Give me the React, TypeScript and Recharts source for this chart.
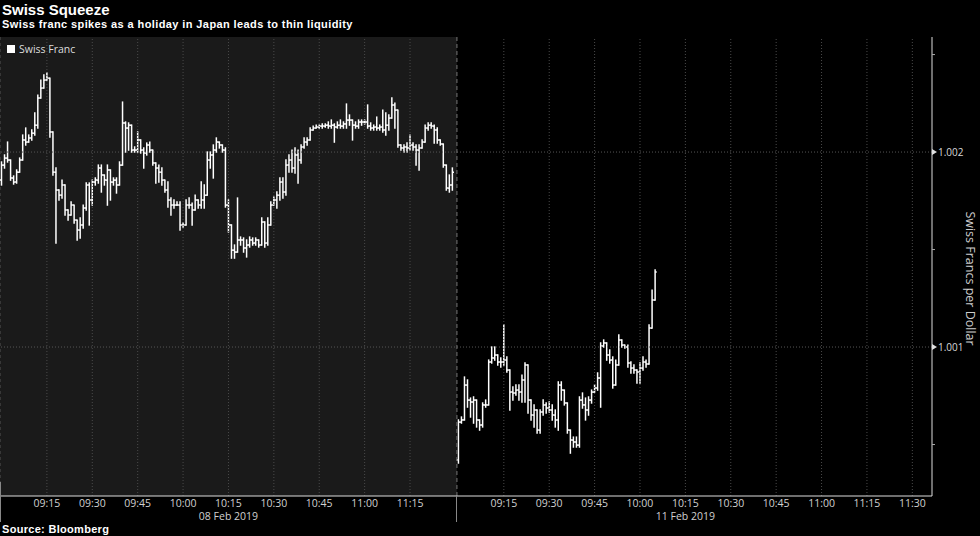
import React from 'react';
import { ComposedChart, Bar, XAxis, YAxis, ReferenceLine, ReferenceArea } from 'recharts';

// 08 Feb 2019 – one bar per minute from 09:00 (open of first bar, then high / low / close)
const feb08Open = 1.001856;
const feb08High = [
  1.001949, 1.001985, 1.002051, 1.001959, 1.001877, 1.001908, 1.001969, 1.002087, 1.002123, 1.002087,
  1.002113, 1.0022, 1.002292, 1.002369, 1.002395, 1.002405, 1.002379, 1.002103, 1.001918, 1.001805,
  1.001856, 1.001831, 1.001703, 1.001744, 1.001728, 1.001651, 1.001662, 1.001728, 1.001841, 1.001841,
  1.001856, 1.001867, 1.001933, 1.001933, 1.001882, 1.001933, 1.001908, 1.001867, 1.001867, 1.001949,
  1.002256, 1.002154, 1.002149, 1.002123, 1.002026, 1.002103, 1.002062, 1.002021, 1.002046, 1.002051,
  1.00201, 1.001944, 1.001933, 1.001918, 1.001856, 1.001846, 1.001764, 1.001754, 1.001744, 1.001744,
  1.001636, 1.001754, 1.001764, 1.001738, 1.001779, 1.001754, 1.001846, 1.001831, 1.002, 1.002,
  1.002036, 1.002072, 1.002051, 1.002036, 1.002021, 1.001754, 1.001626, 1.001523, 1.001764, 1.001564,
  1.001559, 1.001549, 1.001564, 1.001559, 1.001559, 1.001549, 1.001662, 1.001641, 1.001662, 1.001744,
  1.001769, 1.001795, 1.001867, 1.001867, 1.001959, 1.001985, 1.00201, 1.002021, 1.00201, 1.002036,
  1.002072, 1.002072, 1.002123, 1.002133, 1.002138, 1.002138, 1.002144, 1.002144, 1.002154, 1.002164,
  1.002144, 1.002154, 1.002164, 1.002154, 1.002246, 1.00219, 1.002164, 1.002154, 1.002164, 1.002164,
  1.002164, 1.002241, 1.002149, 1.002138, 1.002179, 1.002138, 1.002215, 1.0022, 1.00219, 1.002277,
  1.002251, 1.002215, 1.002036, 1.002036, 1.002046, 1.002087, 1.002046, 1.002036, 1.002036, 1.002062,
  1.002138, 1.002149, 1.002149, 1.002138, 1.002123, 1.002062, 1.002041, 1.001933, 1.001882, 1.001918,
];
const feb08Low = [
  1.001831, 1.001918, 1.001949, 1.001856, 1.001836, 1.001841, 1.001897, 1.001959, 1.002036, 1.002051,
  1.002062, 1.002087, 1.002123, 1.002277, 1.002328, 1.002369, 1.002077, 1.001882, 1.001533, 1.001754,
  1.001764, 1.001677, 1.001651, 1.001677, 1.001636, 1.001549, 1.001559, 1.00161, 1.001703, 1.001626,
  1.001728, 1.001831, 1.001841, 1.001795, 1.001831, 1.001728, 1.001754, 1.001831, 1.00179, 1.001831,
  1.001933, 1.002, 1.00201, 1.002, 1.002, 1.002, 1.001995, 1.001918, 1.001985, 1.002,
  1.001933, 1.001841, 1.001846, 1.001831, 1.001795, 1.001718, 1.001677, 1.001713, 1.001728, 1.0016,
  1.001615, 1.001626, 1.001713, 1.001626, 1.001703, 1.001713, 1.001713, 1.001713, 1.001779, 1.001918,
  1.001867, 1.002, 1.002021, 1.002, 1.001718, 1.00159, 1.001456, 1.001456, 1.001487, 1.001523,
  1.001487, 1.001462, 1.001513, 1.001523, 1.001523, 1.001513, 1.001523, 1.001513, 1.001523, 1.001626,
  1.001728, 1.001713, 1.001754, 1.001764, 1.001779, 1.001897, 1.001897, 1.001892, 1.001841, 1.001944,
  1.002021, 1.002036, 1.002062, 1.002113, 1.002123, 1.002123, 1.002123, 1.002128, 1.002123, 1.002123,
  1.002051, 1.002123, 1.002123, 1.002123, 1.002123, 1.002138, 1.002062, 1.002123, 1.002123, 1.002138,
  1.002144, 1.002123, 1.002113, 1.002113, 1.002113, 1.002113, 1.002103, 1.002087, 1.002113, 1.002174,
  1.002123, 1.002026, 1.00201, 1.002, 1.002, 1.00201, 1.00201, 1.001933, 1.001908, 1.002021,
  1.002051, 1.002113, 1.002123, 1.002046, 1.002046, 1.002036, 1.001923, 1.001805, 1.001795, 1.001805,
];
const feb08Close = [
  1.001933, 1.001969, 1.001959, 1.001867, 1.001846, 1.001897, 1.001959, 1.002062, 1.002051, 1.002072,
  1.002097, 1.002138, 1.002277, 1.002328, 1.002369, 1.002379, 1.002103, 1.001897, 1.001805, 1.001779,
  1.001831, 1.001703, 1.001677, 1.001728, 1.001651, 1.0016, 1.001626, 1.001713, 1.001831, 1.001754,
  1.001846, 1.001856, 1.001918, 1.001882, 1.001856, 1.001908, 1.001846, 1.001856, 1.001831, 1.001933,
  1.002149, 1.002123, 1.002138, 1.00201, 1.00201, 1.002062, 1.00201, 1.001995, 1.002036, 1.00201,
  1.001944, 1.001918, 1.001897, 1.001856, 1.001805, 1.001754, 1.001728, 1.001728, 1.001728, 1.001626,
  1.001626, 1.001728, 1.001728, 1.001703, 1.001754, 1.001728, 1.001754, 1.001779, 1.001959, 1.001985,
  1.00201, 1.002051, 1.002036, 1.00201, 1.001728, 1.001626, 1.001497, 1.001487, 1.001549, 1.001549,
  1.001508, 1.001523, 1.001549, 1.001533, 1.001549, 1.001523, 1.001641, 1.001533, 1.001626, 1.001728,
  1.001754, 1.001779, 1.001846, 1.001795, 1.001933, 1.001959, 1.001918, 1.001985, 1.001959, 1.002026,
  1.002051, 1.002062, 1.002113, 1.002123, 1.002128, 1.002133, 1.002133, 1.002138, 1.002133, 1.002138,
  1.002128, 1.002138, 1.002133, 1.002144, 1.002164, 1.002164, 1.002138, 1.002133, 1.002154, 1.002154,
  1.002154, 1.002133, 1.002123, 1.002128, 1.002123, 1.002128, 1.002113, 1.002138, 1.002174, 1.002241,
  1.002215, 1.002036, 1.002021, 1.002026, 1.002021, 1.002036, 1.002026, 1.00201, 1.002021, 1.002051,
  1.002123, 1.002138, 1.002133, 1.002113, 1.002062, 1.002041, 1.001933, 1.001815, 1.001831, 1.001897,
];

// 11 Feb 2019 – one bar per minute from 09:00
const feb11Open = 1.000421;
const feb11High = [
  1.000626, 1.000641, 1.000846, 1.000831, 1.000738, 1.000744, 1.000713, 1.000626, 1.000713, 1.000728,
  1.000933, 1.001, 1.001, 1.000959, 1.000944, 1.001113, 1.000949, 1.000882, 1.000795, 1.000805,
  1.000805, 1.000856, 1.000918, 1.000908, 1.000728, 1.000703, 1.000651, 1.000677, 1.000728, 1.000713,
  1.000718, 1.000703, 1.000677, 1.000821, 1.000821, 1.000764, 1.000651, 1.000559, 1.000538, 1.000538,
  1.000744, 1.000764, 1.000738, 1.000744, 1.000779, 1.000805, 1.000867, 1.001021, 1.001036, 1.00101,
  1.000985, 1.000949, 1.000933, 1.001062, 1.001036, 1.00101, 1.00101, 1.000923, 1.000908, 1.000882,
  1.000918, 1.000949, 1.000933, 1.001113, 1.001292, 1.001395,
];
const feb11Low = [
  1.000405, 1.00061, 1.000626, 1.000692, 1.000641, 1.00061, 1.00059, 1.000574, 1.00059, 1.000692,
  1.000703, 1.000918, 1.000933, 1.000908, 1.000897, 1.000908, 1.000872, 1.000677, 1.000728, 1.000754,
  1.000728, 1.000718, 1.000718, 1.000662, 1.000626, 1.00059, 1.000559, 1.000559, 1.000651, 1.000662,
  1.000667, 1.000626, 1.00059, 1.000574, 1.000728, 1.000703, 1.000559, 1.000456, 1.000487, 1.000487,
  1.000487, 1.000687, 1.000626, 1.000651, 1.000713, 1.000769, 1.000779, 1.000692, 1.001, 1.000933,
  1.000918, 1.00079, 1.000815, 1.000933, 1.001, 1.000995, 1.000897, 1.000867, 1.000867, 1.000815,
  1.000815, 1.000882, 1.000897, 1.000918, 1.001097, 1.001241,
];
const feb11Close = [
  1.000615, 1.000626, 1.000805, 1.000728, 1.000718, 1.000728, 1.000626, 1.0006, 1.000703, 1.000703,
  1.000923, 1.000944, 1.000959, 1.000923, 1.000923, 1.000933, 1.000882, 1.000769, 1.000764, 1.000779,
  1.000769, 1.000831, 1.000908, 1.000728, 1.000651, 1.000677, 1.000574, 1.000667, 1.000703, 1.000687,
  1.000677, 1.000651, 1.000626, 1.000805, 1.000779, 1.000713, 1.000574, 1.000523, 1.000513, 1.000497,
  1.000728, 1.000703, 1.000677, 1.000728, 1.000769, 1.00079, 1.000841, 1.001005, 1.001021, 1.000959,
  1.000933, 1.000805, 1.000908, 1.001036, 1.00101, 1.001, 1.000918, 1.000892, 1.000882, 1.000872,
  1.000892, 1.000923, 1.000913, 1.001097, 1.001241, 1.001385,
];

const day1Ticks = ['09:15', '09:30', '09:45', '10:00', '10:15', '10:30', '10:45', '11:00', '11:15'];
const day2Ticks = ['09:15', '09:30', '09:45', '10:00', '10:15', '10:30', '10:45', '11:00', '11:15', '11:30'];
const dayLabels: Record<string, string> = { '1': '08 Feb 2019', '2': '11 Feb 2019' };
const yMajor = [1.001, 1.002];
const yMinor = [1.0005, 1.0015, 1.0025];

const hhmm = (m: number) => {
  const h = 9 + Math.floor(m / 60);
  const mm = m % 60;
  return `${String(h).padStart(2, '0')}:${String(mm).padStart(2, '0')}`;
};

function buildDay(day: string, slots: number, open0: number, hi: number[], lo: number[], cl: number[]) {
  const rows: any[] = [];
  let prev = open0;
  for (let i = 0; i < slots; i++) {
    const row: any = { slot: `${day}|${hhmm(i)}` };
    if (i < cl.length) {
      const o = prev;
      const c = cl[i];
      row.o = o;
      row.c = c;
      row.range = [Math.min(lo[i], o, c), Math.max(hi[i], o, c)];
      prev = c;
    }
    rows.push(row);
  }
  return rows;
}

const data = [
  ...buildDay('1', 151, feb08Open, feb08High, feb08Low, feb08Close),
  ...buildDay('2', 157, feb11Open, feb11High, feb11Low, feb11Close),
];

const xTicks = [...day1Ticks.map((t) => `1|${t}`), ...day2Ticks.map((t) => `2|${t}`)];

const OhlcBar = (props: any) => {
  const { x, y, width, height, payload } = props;
  if (!payload || payload.c == null) return null;
  const [l, h] = payload.range;
  const top = Math.min(y, y + height);
  const bot = Math.max(y, y + height);
  const toPx = (v: number) => (h === l ? top : top + ((h - v) / (h - l)) * (bot - top));
  const cx = x + width / 2;
  return (
    <g stroke="#ffffff" strokeWidth={1.5}>
      <line x1={cx} x2={cx} y1={top - 0.7} y2={bot + 0.7} />
      <line x1={cx - 1.6} x2={cx} y1={toPx(payload.o)} y2={toPx(payload.o)} />
      <line x1={cx} x2={cx + 1.6} y1={toPx(payload.c)} y2={toPx(payload.c)} />
    </g>
  );
};

const XTick = ({ x, y, payload }: any) => {
  const [day, t] = String(payload.value).split('|');
  return (
    <g fontFamily="'Open Sans', sans-serif" fontSize={10.5} fill="#d0d0d0">
      <text x={x} y={y + 11} textAnchor="middle">{t}</text>
      {t === '10:15' && (
        <text x={x} y={y + 24} textAnchor="middle">{dayLabels[day]}</text>
      )}
    </g>
  );
};

const YTick = ({ x, y, payload }: any) => {
  const v = payload.value;
  if (yMajor.includes(v)) {
    return (
      <g>
        <path d={`M${x},${y - 3}L${x + 5},${y}L${x},${y + 3}Z`} fill="#e0e0e0" />
        <text x={x + 6} y={y} dy="0.36em" fontFamily="'Open Sans', sans-serif" fontSize={10} fill="#d8d8d8">
          {v.toFixed(3)}
        </text>
      </g>
    );
  }
  return <line x1={x} x2={x + 3} y1={y} y2={y} stroke="#aaaaaa" />;
};

const AxisTitle = (props: any) => {
  const vb = props.viewBox || { x: 932, y: 37, width: 48, height: 459 };
  const x = vb.x + 34;
  const y = vb.y + vb.height / 2 + 12;
  return (
    <text
      transform={`translate(${x},${y}) rotate(90)`}
      textAnchor="middle"
      fontFamily="'Open Sans', sans-serif"
      fontSize={12.5}
      fill="#cccccc"
    >
      Swiss Francs per Dollar
    </text>
  );
};

export default function App() {
  return (
    <div style={{ position: 'absolute', left: 0, top: 0, width: 980, height: 536, background: '#000', overflow: 'hidden' }}>
      <div style={{ position: 'absolute', left: 2, top: 1, color: '#fff', fontFamily: "'Liberation Sans', Arial, sans-serif", fontWeight: 700, fontSize: 15, lineHeight: '18px' }}>
        Swiss Squeeze
      </div>
      <div style={{ position: 'absolute', left: 2, top: 18, color: '#fff', fontFamily: "'Liberation Sans', Arial, sans-serif", fontWeight: 700, fontSize: 11, lineHeight: '13px', letterSpacing: 0.4 }}>
        Swiss franc spikes as a holiday in Japan leads to thin liquidity
      </div>

      <ComposedChart
        width={980}
        height={536}
        data={data}
        margin={{ top: 37, right: 0, bottom: 0, left: 0 }}
        barCategoryGap={0}
        barGap={0}
        style={{ position: 'absolute', left: 0, top: 0 }}
      >
        <XAxis
          dataKey="slot"
          type="category"
          ticks={xTicks}
          interval={0}
          height={40}
          tickLine={false}
          tickSize={0}
          tickMargin={0}
          axisLine={{ stroke: '#dddddd' }}
          tick={<XTick />}
        />
        <YAxis
          orientation="right"
          domain={[1.000236, 1.00259]}
          allowDataOverflow
          ticks={[...yMinor, ...yMajor].sort()}
          width={48}
          tickLine={false}
          tickSize={0}
          tickMargin={0}
          axisLine={{ stroke: '#dddddd' }}
          tick={<YTick />}
          label={<AxisTitle />}
        />
        <ReferenceArea x1="1|09:00" x2="1|11:30" fill="#1a1a1a" fillOpacity={1} stroke="none" />
        {xTicks.map((k) => (
          <ReferenceLine key={k} x={k} stroke="#4a4a4a" strokeDasharray="1 2" />
        ))}
        {yMajor.map((v) => (
          <ReferenceLine key={v} y={v} stroke="#555555" strokeDasharray="1 2" />
        ))}
        <ReferenceLine x="1|09:00" position="start" stroke="#555555" strokeDasharray="3 3" />
        <ReferenceLine x="1|11:30" position="end" stroke="#777777" strokeDasharray="4 3" />
        <Bar dataKey="range" shape={<OhlcBar />} isAnimationActive={false} />
      </ComposedChart>

      <div style={{ position: 'absolute', left: 7, top: 45, width: 8, height: 8, background: '#fff' }} />
      <div style={{ position: 'absolute', left: 19, top: 42, color: '#dddddd', fontFamily: "'Open Sans', sans-serif", fontSize: 10.5, lineHeight: '14px' }}>
        Swiss Franc
      </div>
      <div style={{ position: 'absolute', left: 456, top: 496, width: 1, height: 26, background: '#888' }} />
      <div style={{ position: 'absolute', left: 0, top: 482, width: 1, height: 40, background: '#888' }} />

      <div style={{ position: 'absolute', left: 2, top: 523, color: '#fff', fontFamily: "'Liberation Sans', Arial, sans-serif", fontWeight: 700, fontSize: 11, lineHeight: '13px', letterSpacing: 0.3 }}>
        Source: Bloomberg
      </div>
    </div>
  );
}
